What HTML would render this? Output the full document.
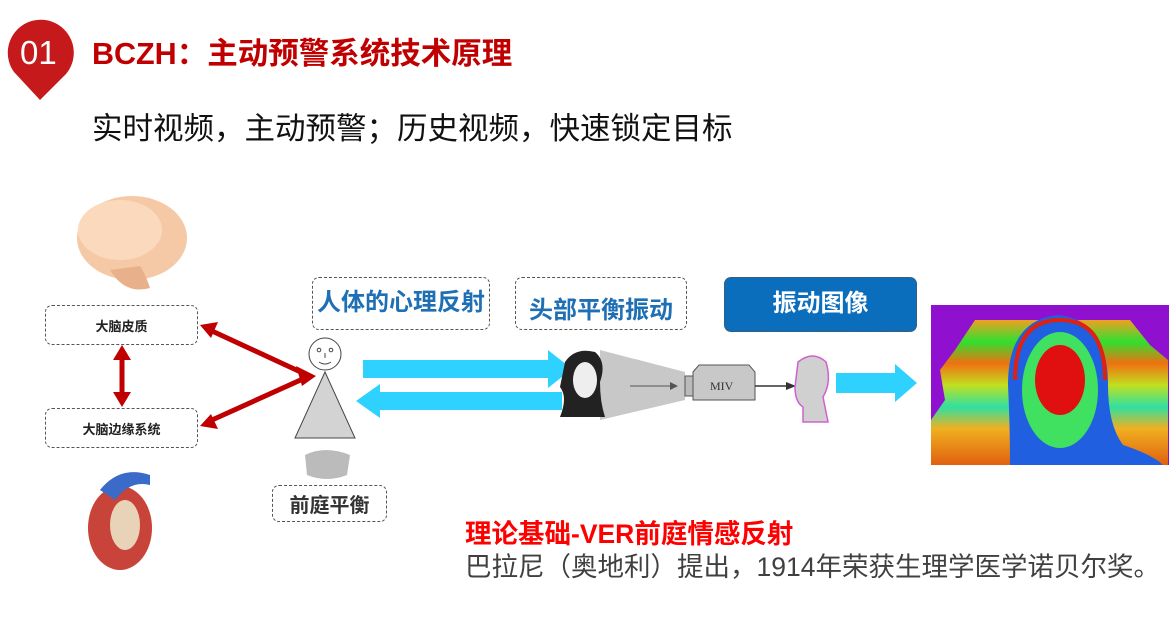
<!DOCTYPE html>
<html><head><meta charset="utf-8"><style>
body{margin:0;width:1176px;height:619px;background:#fff;position:relative;overflow:hidden;font-family:"Liberation Sans","Noto Sans CJK SC",sans-serif}
.a{position:absolute}
.box{position:absolute;border:1.5px dashed #555;border-radius:7px;box-sizing:border-box;display:flex;align-items:center;justify-content:center;font-weight:bold}
.blue{color:#1f6fb5;font-size:24px}
</style></head><body>
<svg class="a" style="left:0;top:0" width="1176" height="619">
  <path d="M40,100 L14,72 A33,33 0 1 1 66,74 Z" fill="#c5191b"/>
  <ellipse cx="132" cy="238" rx="55" ry="42" fill="#f6c9a6"/>
  <ellipse cx="120" cy="230" rx="42" ry="30" fill="#fbd9bd"/>
  <path d="M110,270 q15,25 40,18 q-5,-15 -10,-22z" fill="#e9b08c"/>
  <ellipse cx="120" cy="528" rx="32" ry="42" fill="#c8433a"/>
  <path d="M100,490 q20,-25 50,-15 l0,10 q-20,-5 -35,15z" fill="#3a6bc8"/>
  <ellipse cx="125" cy="525" rx="15" ry="25" fill="#e8d2b8"/>
  <g stroke="#c00000" stroke-width="5" fill="#c00000">
    <line x1="122" y1="358" x2="122" y2="395"/>
    <polygon points="122,345 113,360 131,360" stroke="none"/>
    <polygon points="122,407 113,392 131,392" stroke="none"/>
    <line x1="212" y1="331" x2="305" y2="374"/>
    <polygon points="200,325 218,322 211,338" stroke="none"/>
    <line x1="212" y1="420" x2="305" y2="378"/>
    <polygon points="200,426 211,414 218,429" stroke="none"/>
    <polygon points="316,376 296,366 302,386" stroke="none"/>
  </g>
  <polygon points="325,372 295,438 355,438" fill="#d3d3d3" stroke="#444" stroke-width="1"/>
  <circle cx="325" cy="354" r="16" fill="#fff" stroke="#444"/>
  <circle cx="319" cy="350" r="1.8" fill="none" stroke="#444"/>
  <circle cx="331" cy="350" r="1.8" fill="none" stroke="#444"/>
  <line x1="325" y1="353" x2="325" y2="358" stroke="#444"/>
  <path d="M319,362 q6,4 12,0" fill="none" stroke="#444"/>
  <path d="M305,455 q20,-10 45,0 l-3,20 q-20,8 -40,0z" fill="#bbb"/>
  <polygon points="363,360 548,360 548,350 572,369 548,388 548,378 363,378" fill="#2fd2ff"/>
  <polygon points="562,392 380,392 380,384 356,401 380,418 380,410 562,410" fill="#2fd2ff"/>
  <polygon points="836,373 895,373 895,364 917,383 895,402 895,393 836,393" fill="#2fd2ff"/>
  <polygon points="600,350 685,372 685,400 600,420" fill="#c8c8c8"/>
  <path d="M565,362 q10,-15 30,-10 q12,10 5,30 q0,20 5,35 l-45,0 q8,-20 0,-30z" fill="#222"/>
  <ellipse cx="585" cy="380" rx="12" ry="18" fill="#eee"/>
  <line x1="630" y1="386" x2="670" y2="386" stroke="#555"/>
  <polygon points="670,382 678,386 670,390" fill="#555"/>
  <rect x="685" y="376" width="8" height="20" fill="#bbb" stroke="#555"/>
  <path d="M693,372 l6,-7 l50,0 l6,7 l0,28 l-62,0z" fill="#c8c8c8" stroke="#555"/>
  <text x="710" y="390" font-family="Liberation Serif" font-size="12" fill="#333">MIV</text>
  <line x1="755" y1="386" x2="788" y2="386" stroke="#333" stroke-width="1.5"/>
  <polygon points="786,382 796,386 786,390" fill="#333"/>
  <path d="M798,362 q15,-12 28,0 q6,20 -3,35 l5,25 l-25,0 l0,-15 q-8,-5 -8,-20z" fill="#d0d0d0" stroke="#d060d0" stroke-width="1.5"/>
  <defs><linearGradient id="st" x1="0" y1="0" x2="0" y2="1">
    <stop offset="0" stop-color="#f0a020"/><stop offset=".15" stop-color="#30e030"/><stop offset=".3" stop-color="#f07010"/><stop offset=".45" stop-color="#c0e020"/><stop offset=".6" stop-color="#30e0a0"/><stop offset=".75" stop-color="#f0b020"/><stop offset="1" stop-color="#e06010"/></linearGradient></defs>
  <rect x="931" y="305" width="238" height="160" fill="#9010d0"/>
  <path d="M975,320 L1130,320 L1150,345 L1168,360 L1168,465 L931,465 L931,420 L945,400 L940,370 L955,350 Z" fill="url(#st)"/>
  <path d="M1010,465 q0,-40 -2,-80 q0,-65 50,-70 q50,5 50,70 q0,40 15,60 q30,10 40,20 z" fill="#2060e0"/>
  <ellipse cx="1060" cy="390" rx="38" ry="58" fill="#40e060"/>
  <ellipse cx="1060" cy="380" rx="25" ry="35" fill="#e01010"/>
  <path d="M1015,380 q0,-60 45,-60 q45,0 45,60" fill="none" stroke="#e02010" stroke-width="4"/>
</svg>
<div class="a" style="left:20px;top:34px;color:#fff;font-size:33px">01</div>
<div class="a" style="left:92px;top:29px;color:#c00000;font-size:30.5px;font-weight:bold;white-space:nowrap">BCZH：主动预警系统技术原理</div>
<div class="a" style="left:92px;top:104px;color:#111;font-size:30.5px;white-space:nowrap">实时视频，主动预警；历史视频，快速锁定目标</div>
<div class="box" style="left:45px;top:305px;width:153px;height:40px;font-size:13px;color:#222">大脑皮质</div>
<div class="box" style="left:45px;top:408px;width:153px;height:40px;font-size:13px;color:#222">大脑边缘系统</div>
<div class="box blue" style="left:312px;top:277px;width:178px;height:53px;padding-bottom:8px">人体的心理反射</div>
<div class="box blue" style="left:515px;top:277px;width:172px;height:53px;padding-top:8px">头部平衡振动</div>
<div class="box" style="left:724px;top:277px;width:193px;height:55px;background:#0a6ebd;color:#fff;font-size:24px;padding-bottom:8px">振动图像</div>
<div class="box" style="left:272px;top:485px;width:115px;height:37px;font-size:20px;color:#333">前庭平衡</div>
<div class="a" style="left:465px;top:512px;color:#ff0000;font-size:26.5px;font-weight:bold;white-space:nowrap">理论基础-VER前庭情感反射</div>
<div class="a" style="left:465px;top:545px;color:#404040;font-size:26.5px;white-space:nowrap">巴拉尼（奥地利）提出，1914年荣获生理学医学诺贝尔奖。</div>
</body></html>
